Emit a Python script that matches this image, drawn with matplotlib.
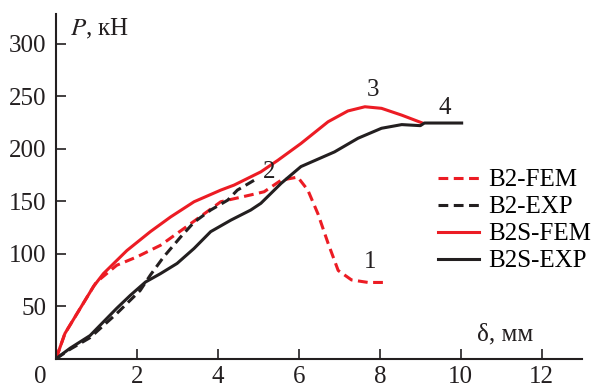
import matplotlib
matplotlib.use("Agg")
from matplotlib import pyplot as plt

plt.rcParams["font.family"] = ["Liberation Serif", "DejaVu Serif"]
plt.rcParams["mathtext.fontset"] = "stix"

RED = "#ec1c24"
BLACK = "#231f20"

# B2-FEM (red dashed)
b2fem_x = [0, 0.22, 0.93, 1.0, 1.5, 2.0, 2.58, 3.16, 3.66, 4.07, 4.81, 5.14, 5.56, 5.97, 6.22, 6.47, 6.72, 6.97, 7.3, 7.71, 8.12]
b2fem_y = [0, 24, 69, 73, 89, 97, 108, 124, 138, 149.5, 156, 159, 170, 173, 160.6, 138, 110, 84, 75, 72.6, 72.6]

# B2-EXP (black dashed)
b2exp_x = [0, 0.35, 0.84, 1.5, 2.08, 2.33, 2.66, 3.08, 3.41, 3.82, 4.24, 4.48, 4.94]
b2exp_y = [0, 9, 20, 43, 65, 79.6, 97, 116, 130, 141.6, 151, 160.6, 171]

# B2S-FEM (red solid)
b2sfem_x = [0, 0.22, 0.93, 1.17, 1.75, 2.33, 2.83, 3.41, 4.07, 4.40, 5.06, 5.48, 6.05, 6.72, 7.21, 7.63, 8.04, 8.54, 9.03]
b2sfem_y = [0, 24, 69, 81, 103, 121, 135, 149.5, 160.6, 165.4, 178, 189, 205, 225.7, 236, 240, 238.5, 232, 224.8]

# B2S-EXP (black solid)
b2sexp_x = [0, 0.35, 0.84, 1.5, 1.84, 2.21, 2.58, 2.99, 3.41, 3.82, 4.32, 4.81, 5.06, 5.56, 6.05, 6.88, 7.46, 8.04, 8.54, 9.0, 9.1, 10.02]
b2sexp_y = [0, 10, 22, 48, 60.5, 73, 81, 90.7, 105, 121, 132, 141.6, 148, 167, 183, 197, 210, 219.5, 223, 222, 224.5, 224.5]

labels = ["B2-FEM", "B2-EXP", "B2S-FEM", "B2S-EXP"]
curve_marks = [("1", 7.77, 92), ("2", 5.26, 178), ("3", 7.84, 256), ("4", 9.6, 239)]

fig = plt.figure(figsize=(5.96, 3.89), dpi=100)
ax = fig.add_axes([0.094, 0.078, 0.883, 0.885])

dash = (0, (3.2, 1.8))
ax.plot(b2fem_x, b2fem_y, color=RED, lw=2.2, linestyle=dash, label=labels[0])
ax.plot(b2exp_x, b2exp_y, color=BLACK, lw=2.2, linestyle=dash, label=labels[1])
ax.plot(b2sfem_x, b2sfem_y, color=RED, lw=2.2, label=labels[2])
ax.plot(b2sexp_x, b2sexp_y, color=BLACK, lw=2.2, label=labels[3])

for txt, xx, yy in curve_marks:
    ax.text(xx, yy, txt, fontsize=18, color=BLACK, ha="center", va="center")

ax.set_xlim(0, 13)
ax.set_ylim(0, 328)
ax.set_xticks([2, 4, 6, 8, 10, 12])
ax.set_yticks([50, 100, 150, 200, 250, 300])
ax.tick_params(direction="in", length=7, width=1.2, labelsize=18, pad=7, colors=BLACK)
ax.tick_params(axis="x", pad=5.5)
for s in ["top", "right"]:
    ax.spines[s].set_visible(False)
for s in ["left", "bottom"]:
    ax.spines[s].set_linewidth(1.5)
    ax.spines[s].set_color(BLACK)

ax.annotate("0", xy=(0, 0), xytext=(-11.5, -5.5), textcoords="offset points",
            ha="center", va="top", fontsize=18, color=BLACK)
ax.text(0.35, 308, "$P$, кН", fontsize=18, ha="left", va="baseline", color=BLACK)
ax.text(10.4, 17.6, "δ, мм", fontsize=18, ha="left", va="baseline", color=BLACK)

leg = ax.legend(loc="upper left", bbox_to_anchor=(0.707, 0.58), frameon=False,
                fontsize=18, handlelength=1.65, handletextpad=0.36, labelspacing=0.18,
                borderaxespad=0)

fig.savefig("out.png", dpi=100)
